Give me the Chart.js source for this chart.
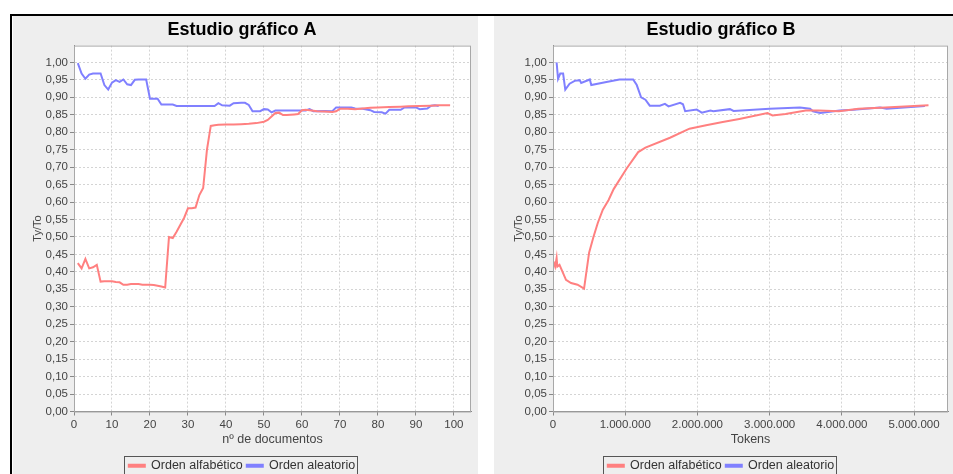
<!DOCTYPE html>
<html>
<head>
<meta charset="utf-8">
<script src="https://cdn.jsdelivr.net/npm/chart.js@4.4.0/dist/chart.umd.min.js"></script>
<style>
html, body { margin: 0; padding: 0; background: #fff; overflow: hidden; width: 953px; height: 474px; }
#topline { position: absolute; left: 10px; top: 14px; width: 943px; height: 2px; background: #000; }
#leftline { position: absolute; left: 10px; top: 14px; width: 2px; height: 460px; background: #000; }
.panel { position: absolute; top: 16px; background: #eeeeee; height: 466px; }
#pA { left: 13px; width: 465px; }
#pB { left: 494px; width: 459px; }
canvas { display: block; }
</style>
</head>
<body>
<div id="topline"></div>
<div id="leftline"></div>
<div class="panel" id="pA"><canvas id="chartA" width="465" height="466"></canvas></div>
<div class="panel" id="pB"><canvas id="chartB" width="459" height="466"></canvas></div>
<script>
// Estudio grafico A: nº de documentos vs Ty/To
var docsAlf = [1,2,3,4,5,6,7,8,9,10,11,12,13,14,15,16,17,18,19,20,21,22,23,24,25,26,27,28,29,30,31,32,33,34,35,36,37,38,40,42,44,46,48,50,51,52,53,54,55,56,58,59,60,61,62,64,66,68,69,70,72,74,76,78,80,83,86,88,91,94,96,99];
var ttAlfA = [0.425,0.41,0.437,0.41,0.413,0.42,0.372,0.373,0.373,0.373,0.371,0.37,0.363,0.363,0.365,0.365,0.365,0.363,0.363,0.363,0.362,0.36,0.358,0.355,0.50,0.497,0.515,0.535,0.555,0.582,0.582,0.584,0.62,0.64,0.75,0.818,0.82,0.821,0.822,0.822,0.823,0.824,0.826,0.83,0.835,0.845,0.855,0.856,0.849,0.849,0.851,0.852,0.863,0.864,0.863,0.86,0.859,0.858,0.86,0.867,0.867,0.866,0.868,0.87,0.871,0.872,0.873,0.874,0.875,0.876,0.877,0.877];
var docsAle = [1,2,3,4,5,6,7,8,9,10,11,12,13,14,15,16,17,18,19,20,21,22,23,24,26,27,30,34,37,38,39,41,42,44,45,46,47,49,50,51,52,53,56,58,61,62,63,66,68,69,71,73,74,76,78,79,81,82,83,86,87,90,91,93,94,95,96];
var ttAleA = [0.998,0.968,0.953,0.965,0.968,0.968,0.968,0.935,0.922,0.942,0.949,0.944,0.951,0.937,0.935,0.95,0.951,0.951,0.951,0.896,0.896,0.896,0.879,0.879,0.879,0.875,0.875,0.875,0.875,0.883,0.877,0.876,0.883,0.884,0.884,0.878,0.86,0.86,0.866,0.865,0.857,0.862,0.862,0.862,0.862,0.866,0.86,0.861,0.86,0.871,0.871,0.871,0.868,0.867,0.863,0.858,0.857,0.853,0.864,0.864,0.871,0.871,0.866,0.868,0.876,0.877,0.875];

// Estudio grafico B: tokens vs Ty/To
var tokAlf = [5000,30000,50000,60000,90000,180000,250000,340000,430000,500000,560000,620000,690000,770000,840000,1020000,1180000,1280000,1620000,1890000,2120000,2350000,2580000,2970000,3040000,3220000,3500000,3680000,3960000,4230000,4600000,5200000];
var ttAlfB = [0.43,0.415,0.44,0.415,0.42,0.377,0.368,0.363,0.352,0.455,0.50,0.54,0.578,0.606,0.637,0.696,0.743,0.756,0.784,0.81,0.82,0.829,0.838,0.855,0.848,0.852,0.862,0.862,0.86,0.867,0.871,0.877];
var tokAle = [50000,70000,100000,140000,170000,230000,300000,370000,390000,510000,530000,740000,920000,1110000,1160000,1220000,1280000,1340000,1480000,1550000,1600000,1760000,1800000,1830000,1990000,2060000,2180000,2220000,2450000,2500000,3000000,3420000,3560000,3600000,3700000,3970000,4160000,4530000,4620000,5150000];
var ttAleB = [1.00,0.953,0.968,0.968,0.922,0.939,0.947,0.949,0.941,0.951,0.935,0.944,0.951,0.951,0.935,0.9,0.893,0.876,0.876,0.881,0.874,0.884,0.88,0.86,0.865,0.856,0.862,0.86,0.866,0.861,0.867,0.871,0.867,0.86,0.855,0.862,0.864,0.871,0.867,0.875];

var yTicks = { min: 0, max: 1.048, step: 0.05 };
var xTicksA = [0,10,20,30,40,50,60,70,80,90,100];
var xTicksB = [0,1000000,2000000,3000000,4000000,5000000];
var labelsLegend = ['Orden alfabético', 'Orden aleatorio'];
var colAlf = '#ff8080';
var colAle = '#8080ff';

Chart.defaults.font.family = "'Liberation Sans', Arial, sans-serif";

function pts(xs, ys) {
	var out = [];
	for (var i = 0; i < xs.length; i++) out.push({ x: xs[i], y: ys[i] });
	return out;
}

function fmtMiles(v) {
	return String(Math.round(v)).replace(/\B(?=(\d{3})+(?!\d))/g, '.');
}

var plotBg = {
	id: 'plotBg',
	beforeDraw: function (chart) {
		var a = chart.chartArea, ctx = chart.ctx;
		ctx.save();
		ctx.fillStyle = '#ffffff';
		ctx.fillRect(a.left, a.top, a.right - a.left, a.bottom - a.top);
		ctx.restore();
	}
};

var plotFrame = {
	id: 'plotFrame',
	afterDraw: function (chart) {
		var a = chart.chartArea, ctx = chart.ctx;
		ctx.save();
		ctx.strokeStyle = '#a8a8a8';
		ctx.lineWidth = 1;
		ctx.strokeRect(a.left + 0.5, a.top + 0.5, a.right - a.left - 1, a.bottom - a.top);
		// caja de la leyenda
		var hb = chart.legend.legendHitBoxes;
		if (hb && hb.length) {
			var l = hb[0].left - 5, r = hb[hb.length - 1].left + hb[hb.length - 1].width + 2;
			var cy = hb[0].top + hb[0].height / 2;
			ctx.strokeStyle = '#555';
			ctx.strokeRect(Math.round(l) + 0.5, Math.round(cy - 9.5) + 0.5, Math.round(r - l), 19);
		}
		ctx.restore();
	}
};

function makeChart(id, title, xTitle, xMax, xTickVals, xFmt, yWidth, padRight, dAlf, dAle) {
	return new Chart(document.getElementById(id), {
		type: 'line',
		data: {
			datasets: [
				{ label: labelsLegend[0], data: dAlf, borderColor: colAlf, backgroundColor: colAlf, borderWidth: 2, pointRadius: 0, tension: 0 },
				{ label: labelsLegend[1], data: dAle, borderColor: colAle, backgroundColor: colAle, borderWidth: 2, pointRadius: 0, tension: 0 }
			]
		},
		options: {
			responsive: false,
			animation: false,
			layout: { padding: { left: 0, right: padRight, top: 0, bottom: 0 } },
			plugins: {
				title: { display: true, text: title, color: '#000', font: { size: 18, weight: 'bold' }, padding: { top: 3, bottom: 5 } },
				legend: { position: 'bottom', labels: { boxWidth: 16, boxHeight: 2, padding: 4, color: '#333', font: { size: 12.5 } } },
				tooltip: { enabled: false }
			},
			scales: {
				x: {
					type: 'linear', min: 0, max: xMax,
					afterBuildTicks: function (s) { s.ticks = xTickVals.map(function (v) { return { value: v }; }); },
					afterFit: function (s) { s.height = 44; },
					title: { display: true, text: xTitle, color: '#444', font: { size: 12.5 }, padding: { top: 0, bottom: 8 } },
					ticks: { autoSkip: false, maxRotation: 0, color: '#444', font: { size: 11.5 }, padding: 2, callback: xFmt },
					grid: { color: '#d4d4d4', tickColor: '#888', tickLength: 4, tickBorderDash: [] },
					border: { color: '#888', dash: [2, 2] }
				},
				y: {
					min: yTicks.min, max: yTicks.max,
					afterFit: function (s) { s.width = yWidth; },
					title: { display: true, text: 'Ty/To', color: '#444', font: { size: 11 }, padding: { top: 18, bottom: 0 } },
					ticks: { stepSize: yTicks.step, includeBounds: false, autoSkip: false, color: '#444', font: { size: 11.5 }, padding: 2,
						callback: function (v) { return v.toFixed(2).replace('.', ','); } },
					grid: { color: '#d4d4d4', tickColor: '#888', tickLength: 4, tickBorderDash: [] },
					border: { color: '#888', dash: [2, 2] }
				}
			}
		},
		plugins: [plotBg, plotFrame]
	});
}

makeChart('chartA', 'Estudio gráfico A', 'nº de documentos', 104.5, xTicksA,
	function (v) { return String(v); }, 61, 7, pts(docsAlf, ttAlfA), pts(docsAle, ttAleA));
makeChart('chartB', 'Estudio gráfico B', 'Tokens', 5470000, xTicksB,
	function (v) { return fmtMiles(v); }, 59, 5, pts(tokAlf, ttAlfB), pts(tokAle, ttAleB));
</script>
</body>
</html>
